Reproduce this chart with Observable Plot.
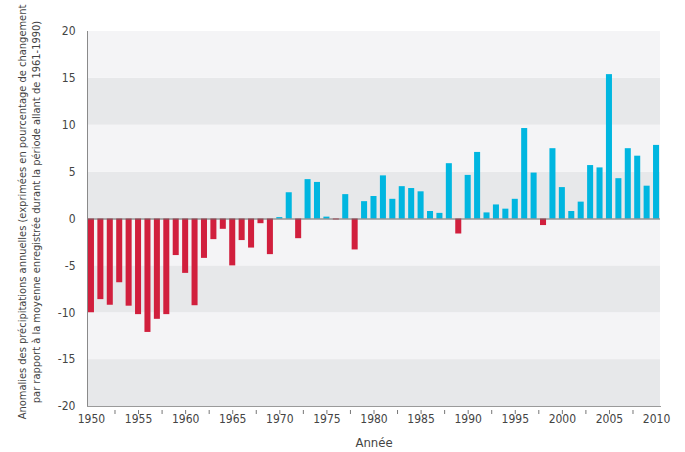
<!DOCTYPE html>
<html>
<head>
<meta charset="utf-8">
<script src="https://cdn.jsdelivr.net/npm/d3@7"></script>
<script src="https://cdn.jsdelivr.net/npm/@observablehq/plot@0.6"></script>
<style>
  html, body { margin: 0; padding: 0; background: #fff; }
  #chart { width: 685px; height: 452px; }
  svg { font-family: "Liberation Sans Narrow", "DejaVu Sans Condensed", "Open Sans", sans-serif; }
</style>
</head>
<body>
<div id="chart"></div>
<script>
// Years and precipitation anomalies (% vs 1961-1990 mean)
const years = d3.range(1950, 2011);
const anomalies = [
  -10.0, -8.6, -9.2, -6.8, -9.3, -10.2, -12.1, -10.7, -10.2, -3.9,
  -5.8, -9.25, -4.2, -2.2, -1.1, -5.0, -2.3, -3.1, -0.5, -3.8,
  0.15, 2.8, -2.1, 4.2, 3.9, 0.2, -0.1, 2.6, -3.3, 1.85,
  2.4, 4.6, 2.1, 3.45, 3.25, 2.9, 0.8, 0.6, 5.9, -1.6,
  4.65, 7.1, 0.65, 1.5, 1.05, 2.1, 9.65, 4.9, -0.7, 7.5,
  3.35, 0.8, 1.8, 5.7, 5.45, 15.4, 4.3, 7.5, 6.7, 3.5,
  7.85
];
const yTicks = [-20, -15, -10, -5, 0, 5, 10, 15, 20];
const majorYears = [1950, 1955, 1960, 1965, 1970, 1975, 1980, 1985, 1990, 1995, 2000, 2005, 2010];
const minorYears = [1952, 1957, 1962, 1967, 1972, 1977, 1982, 1987, 1992, 1997, 2002, 2007];
const stripeLow = [-20, -15, -10, -5, 0, 5, 10, 15];
const stripeFill = ["#e7e8ea", "#f4f4f6", "#e7e8ea", "#f4f4f6", "#e7e8ea", "#f4f4f6", "#e7e8ea", "#f4f4f6"];
const yLabel = "Anomalies des précipitations annuelles (exprimées en pourcentage de changement\npar rapport à la moyenne enregistrée durant la période allant de 1961-1990)";
const xLabel = "Année";

const data = years.map((y, i) => ({year: y, value: anomalies[i]}));
const stripes = stripeLow.map((v, i) => ({y1: v, y2: v + 5, fill: stripeFill[i]}));

const chart = Plot.plot({
  width: 685,
  height: 452,
  marginLeft: 87,
  marginRight: 25,
  marginTop: 31,
  marginBottom: 46,
  style: {fontSize: "12px", color: "#444", background: "#fff"},
  x: {type: "band", domain: years, paddingInner: 0.36, paddingOuter: 0.1, round: false, label: null},
  y: {domain: [-20, 20], label: null},
  marks: [
    Plot.rectY(stripes, {y1: "y1", y2: "y2", fill: "fill"}),
    Plot.barY(data, {x: "year", y: "value", fill: d => d.value < 0 ? "#d11f3d" : "#00b6e0"}),
    Plot.ruleY([0], {stroke: "#666", strokeWidth: 1}),
    Plot.frame({anchor: "left", stroke: "#8a8a8a"}),
    Plot.frame({anchor: "bottom", stroke: "#9a9a9a"}),
    Plot.axisY({ticks: yTicks, tickSize: 0, tickPadding: 12, fill: "#444", fontSize: 12, tickFormat: d => String(d)}),
    Plot.axisX({ticks: majorYears, tickSize: 0, tickPadding: 8, fill: "#444", fontSize: 12, tickFormat: d => String(d)}),
    Plot.axisX({ticks: majorYears.slice(1, -1), tickSize: 4, inset: -4, fill: "none", stroke: "#777", label: null}),
    Plot.axisX({ticks: minorYears, tickSize: 4, inset: -4, fill: "none", stroke: "#777", dx: 4.7, label: null}),
    Plot.text([yLabel], {frameAnchor: "left", textAnchor: "middle", rotate: -90, dx: -59, dy: -7, fontSize: 11, fill: "#444", lineHeight: 1.3}),
    Plot.text([xLabel], {frameAnchor: "bottom", dy: 40, fontSize: 13, fill: "#444"})
  ]
});
document.getElementById("chart").appendChild(chart);
</script>
</body>
</html>
